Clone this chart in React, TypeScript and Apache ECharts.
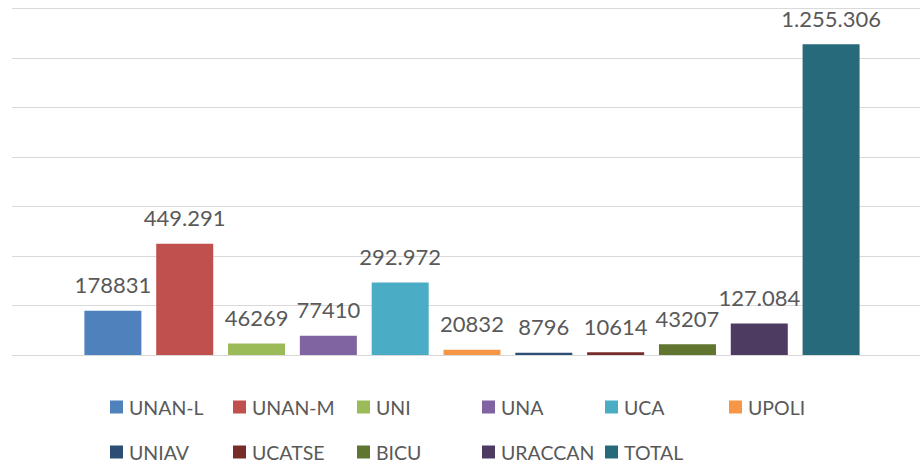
import React, { useEffect, useRef } from "react";
import * as echarts from "echarts";

const names = ["UNAN-L", "UNAN-M", "UNI", "UNA", "UCA", "UPOLI", "UNIAV", "UCATSE", "BICU", "URACCAN", "TOTAL"];
const values = [178831, 449291, 46269, 77410, 292972, 20832, 8796, 10614, 43207, 127084, 1255306];
const valueLabels = ["178831", "449.291", "46269", "77410", "292.972", "20832", "8796", "10614", "43207", "127.084", "1.255.306"];
const colors = ["#4F81BD", "#C0504D", "#9BBB59", "#8064A2", "#4BACC6", "#F79646", "#2C4D75", "#772C2A", "#5F7530", "#4D3B62", "#276A7C"];
const legendLeft = [110, 233, 357, 482, 605, 729, 110, 233, 357, 482, 605];
const legendTop = [397, 397, 397, 397, 397, 397, 442, 442, 442, 442, 442];

export default function App() {
  const ref = useRef<HTMLDivElement>(null);
  useEffect(() => {
    if (!ref.current) return;
    const chart = echarts.init(ref.current, undefined, { renderer: "svg" });
    const font = "Lato, 'Open Sans', sans-serif";
    chart.setOption({
      animation: false,
      textStyle: { fontFamily: font },
      grid: { left: 12, right: 0, top: 8.5, bottom: 110 },
      legend: names.map((n, i) => ({
        data: [n],
        left: legendLeft[i],
        top: legendTop[i],
        padding: 0,
        itemWidth: 13,
        itemHeight: 13,
        itemGap: 6,
        icon: "rect",
        selectedMode: false,
        textStyle: { fontSize: 19.5, color: "#595959", fontFamily: font, padding: [0, 0, 0, 1] },
      })),
      xAxis: {
        type: "category",
        data: ["x"],
        axisLabel: { show: false },
        axisTick: { show: false },
        axisLine: { show: true, lineStyle: { color: "#d9d9d9", width: 1 } },
      },
      yAxis: {
        type: "value",
        min: 0,
        max: 1400000,
        interval: 200000,
        axisLabel: { show: false },
        axisTick: { show: false },
        axisLine: { show: false },
        splitLine: { show: true, lineStyle: { color: "#d9d9d9", width: 1 } },
      },
      series: names.map((n, i) => ({
        name: n,
        type: "bar",
        data: [values[i]],
        barWidth: 57,
        barGap: "26%",
        itemStyle: { color: colors[i] },
        label: {
          show: true,
          position: "top",
          distance: 15,
          fontSize: 22,
          color: "#595959",
          fontFamily: font,
          formatter: () => valueLabels[i],
        },
      })),
    });
    return () => chart.dispose();
  }, []);
  return (
    <div style={{ position: "fixed", left: 0, top: 0, width: 920, height: 465, overflow: "hidden", background: "#fff" }}>
      <div ref={ref} style={{ width: 932, height: 465 }} />
    </div>
  );
}
